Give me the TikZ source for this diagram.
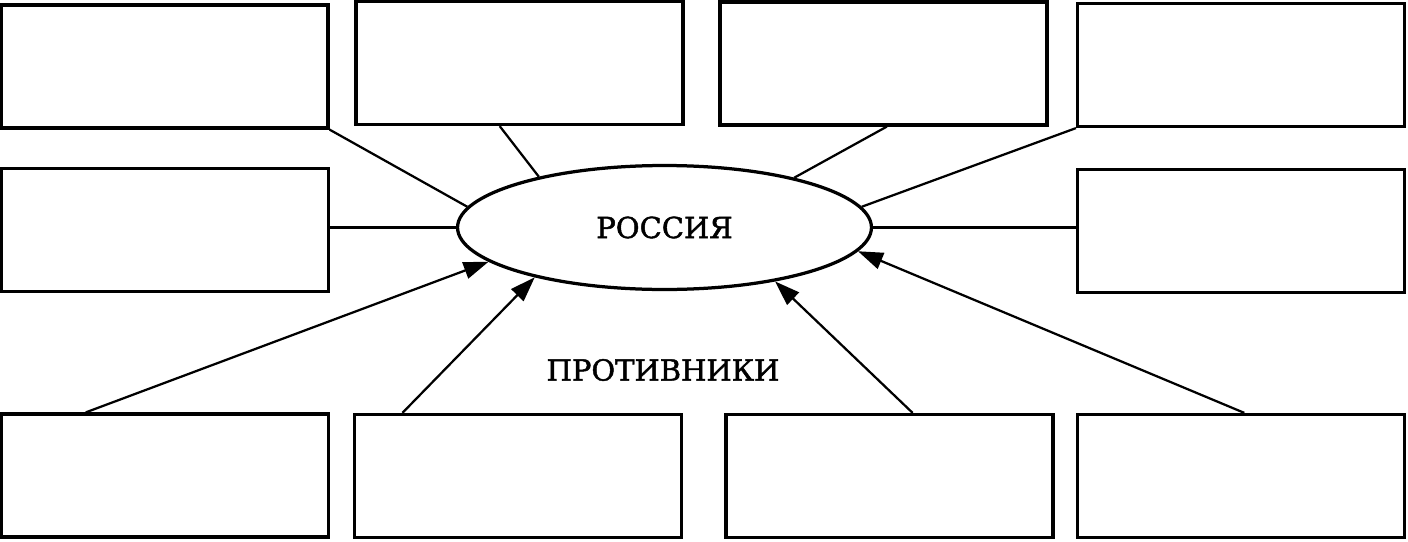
\documentclass[tikz,border=0pt]{standalone}
\usepackage{fontspec}
\setmainfont{DejaVu Serif}
\newfontfamily\capfont{DejaVu Serif}[FakeBold=1.6]
\usetikzlibrary{arrows.meta,calc,shapes.geometric}

\begin{document}
\begin{tikzpicture}[x=0.02cm,y=-0.02cm,
    cell/.style={draw,line width=0.065cm,minimum width=6.54cm,minimum height=2.46cm,inner sep=0},
    link/.style={line width=0.045cm},
    arr/.style={link,-{Triangle[length=0.5cm,width=0.34cm]}},
    caption/.style={font=\capfont\fontsize{16.5}{20}\selectfont}]
      \useasboundingbox (0,0) rectangle (1408,541);

      \node [draw,ellipse,line width=0.065cm,minimum width=8.28cm,minimum height=2.48cm,inner sep=0,caption] (russia) at (664.5,227.5) {РОССИЯ};

      \node [cell] (top-1) at (164.5,66.5) {};
      \node [cell] (top-2) at (519.5,63) {};
      \node [cell] (top-3) at (883.5,63.5) {};
      \node [cell] (top-4) at (1241,65) {};
      \node [cell] (mid-left) at (165,230) {};
      \node [cell] (mid-right) at (1241,231) {};
      \node [cell] (foe-1) at (165,475.5) {};
      \node [cell] (foe-2) at (518,476) {};
      \node [cell] (foe-3) at (889.5,476) {};
      \node [cell] (foe-4) at (1241,476) {};

      \node [caption] (foes) at (663,370) {ПРОТИВНИКИ};

      \draw[link] (top-1.south east) -- (russia.174.5);
      \draw[link] ($(top-2.south west)!0.44!(top-2.south east)$) -- (russia.158);
      \draw[link] ($(top-3.south west)!0.51!(top-3.south east)$) -- (russia.21);
      \draw[link] (top-4.south west) -- (russia.6.3);
      \draw[link] (russia.west) -- (russia.west -| mid-left.east);
      \draw[link] (russia.east) -- (russia.east -| mid-right.west);

      \foreach \b/\f/\a in {foe-1/0.26/191.2,foe-2/0.15/201.8,foe-3/0.57/334.8,foe-4/0.51/353}{
        \draw[arr] ($(\b.north west)!\f!(\b.north east)$) -- (russia.\a);
      }
  \end{tikzpicture}
\end{document}
